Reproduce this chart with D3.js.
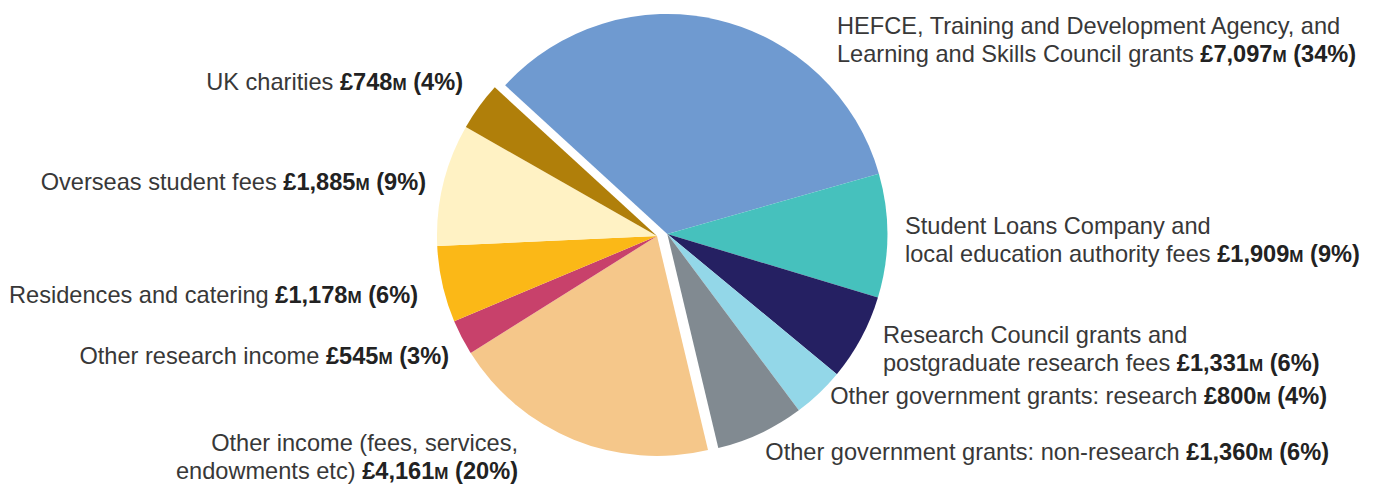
<!DOCTYPE html>
<html><head><meta charset="utf-8">
<script src="https://cdn.jsdelivr.net/npm/d3@7"></script>
<style>body{margin:0;background:#fff;overflow:hidden}</style>
</head><body>
<svg id="c" width="1376" height="487"></svg>
<script>
// ---- data ----
const categories = [
  ["HEFCE, Training and Development Agency, and", "Learning and Skills Council grants"],
  ["Student Loans Company and", "local education authority fees"],
  ["Research Council grants and", "postgraduate research fees"],
  ["Other government grants: research"],
  ["Other government grants: non-research"],
  ["Other income (fees, services,", "endowments etc)"],
  ["Other research income"],
  ["Residences and catering"],
  ["Overseas student fees"],
  ["UK charities"]
];
const values = [7097, 1909, 1331, 800, 1360, 4161, 545, 1178, 1885, 748];
const percents = [34, 9, 6, 4, 6, 20, 3, 6, 9, 4];
const groups = ["a", "a", "a", "a", "a", "b", "b", "b", "b", "b"];

// ---- styles / layout ----
const colors = ["#6f9ad0", "#46c1bd", "#252062", "#93d7e8", "#818a91",
                "#f5c78a", "#c8416b", "#fbb817", "#fff2c4", "#b07f0a"];
const labelLayout = [
  {x: 837, y: 33.5, anchor: "start"},
  {x: 905, y: 233.5, anchor: "start"},
  {x: 883, y: 342.5, anchor: "start"},
  {x: 1327, y: 404, anchor: "end"},
  {x: 1329, y: 460, anchor: "end"},
  {x: 518, y: 450.5, anchor: "end"},
  {x: 449, y: 364, anchor: "end"},
  {x: 418, y: 303, anchor: "end"},
  {x: 426, y: 189.5, anchor: "end"},
  {x: 463, y: 89.5, anchor: "end"}
];
const cx = 657, cy = 236, R = 220;
const explode = {a: {dist: 10.5, angle: 79}, b: {dist: 0, angle: 0}};
const startDeg = -47.5;
const lineH = 28.5;

const svg = d3.select("#c");
const data = values.map((v, i) => ({v, i}));
const pie = d3.pie().value(d => d.v).sort(null)
  .startAngle(startDeg * Math.PI / 180)
  .endAngle(startDeg * Math.PI / 180 + 2 * Math.PI);
const arc = d3.arc().innerRadius(0).outerRadius(R);
const arcs = pie(data);

const g = svg.append("g").attr("transform", `translate(${cx},${cy})`);
g.selectAll("path").data(arcs).join("path")
  .attr("d", arc)
  .attr("fill", d => colors[d.data.i])
  .attr("transform", d => {
    const e = explode[groups[d.data.i]];
    const a = e.angle * Math.PI / 180;
    return `translate(${e.dist * Math.sin(a)},${-e.dist * Math.cos(a)})`;
  });

const fmt = d3.format(",");
const labels = svg.append("g")
  .attr("font-family", "'Liberation Sans', Arial, Helvetica, sans-serif")
  .attr("font-size", 23.6)
  .attr("fill", "#383838");

categories.forEach((lines, i) => {
  const L = labelLayout[i];
  const t = labels.append("text")
    .attr("x", L.x).attr("y", L.y)
    .attr("text-anchor", L.anchor);
  lines.forEach((ln, j) => {
    t.append("tspan").attr("x", L.x).attr("dy", j === 0 ? 0 : lineH).text(ln);
    if (j === lines.length - 1) {
      const b = t.append("tspan").attr("font-weight", "bold").attr("fill", "#222");
      b.append("tspan").text(" £" + fmt(values[i]));
      b.append("tspan").attr("font-size", 17).text("M");
      b.append("tspan").text(" (" + percents[i] + "%)");
    }
  });
});
</script>
</body></html>
